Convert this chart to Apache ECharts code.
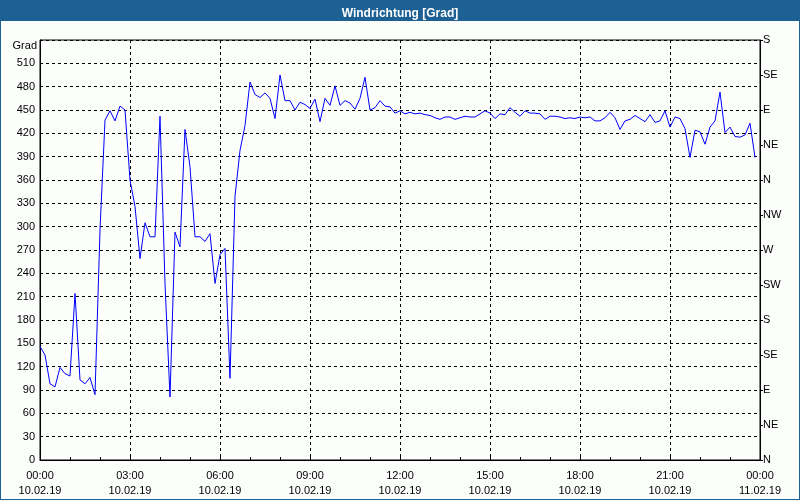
<!DOCTYPE html>
<html>
<head>
<meta charset="utf-8">
<style>
html,body{margin:0;padding:0;background:#fcfefc;}
#chart{width:800px;height:500px;}
</style>
<script src="https://cdn.jsdelivr.net/npm/echarts@6/dist/echarts.min.js"></script>
</head>
<body>
<div id="chart"></div>
<script>
// Sampling: one reading every 10 minutes starting 10.02.19 00:00
const stepMinutes = 10;
const windDirection = [
  146,135,98,94,119,111,108,214,103,98,106,84,
  296,437,449,436,455,450,360,326,259,305,287,287,
  442,227,81,293,274,425,377,287,287,281,291,227,
  264,272,105,339,398,430,486,470,466,472,465,439,
  495,462,462,450,460,457,452,464,435,465,456,481,
  456,462,459,451,465,492,450,453,462,455,454,446,
  449,445,447,445,446,444,443,440,438,441,441,438,
  440,442,441,441,445,449,446,439,445,444,453,447,
  442,449,446,446,445,438,442,442,441,439,440,439,
  441,440,441,436,436,440,447,440,425,436,438,443,
  439,435,444,434,436,449,428,441,439,426,389,424,
  422,406,428,436,473,421,428,416,415,418,433,389
];
const xTickLabels = [
  "00:00\n10.02.19","03:00\n10.02.19","06:00\n10.02.19","09:00\n10.02.19",
  "12:00\n10.02.19","15:00\n10.02.19","18:00\n10.02.19","21:00\n10.02.19",
  "00:00\n11.02.19"
];
const compassLabels = ["N","NE","E","SE","S","SW","W","NW","N","NE","E","SE","S"];
const titleText = "Windrichtung [Grad]";
const unitLabel = "Grad";

const seriesData = windDirection.map((v, i) => [i * stepMinutes, v]);
const font = "'Liberation Sans Narrow','Liberation Sans',sans-serif";

const chart = echarts.init(document.getElementById('chart'), null, {renderer: 'canvas'});
chart.setOption({
  backgroundColor: '#fcfefc',
  animation: false,
  title: {
    text: titleText,
    left: 'center',
    top: 3,
    textStyle: {color: '#ffffff', fontSize: 12, fontWeight: 'bold', fontFamily: font}
  },
  graphic: [
    {type: 'rect', left: 0, top: 0, z: -1, shape: {width: 800, height: 21}, style: {fill: '#1d6094'}},
    {type: 'rect', left: 0, top: 0, z: -1, shape: {width: 1, height: 500}, style: {fill: '#1d6094'}},
    {type: 'rect', left: 799, top: 0, z: -1, shape: {width: 1, height: 500}, style: {fill: '#1d6094'}},
    {type: 'rect', left: 0, top: 499, z: -1, shape: {width: 800, height: 1}, style: {fill: '#1d6094'}},
    {type: 'text', right: 763, top: 40, style: {text: unitLabel, fill: '#000', font: '11px ' + font}}
  ],
  grid: {left: 40, right: 40, top: 40, bottom: 40, show: true, borderColor: '#000', borderWidth: 1, backgroundColor: 'transparent'},
  xAxis: {
    type: 'value', min: 0, max: 1440, interval: 180,
    axisLine: {show: true, lineStyle: {color: '#000', width: 1}},
    axisTick: {show: true, inside: true, length: 3, lineStyle: {color: '#000'}},
    minorTick: {show: true, splitNumber: 3, length: 3, lineStyle: {color: '#000'}},
    splitLine: {show: true, lineStyle: {color: '#000', type: [3, 3], width: 1}},
    axisLabel: {
      color: '#000', fontSize: 11, fontFamily: font, lineHeight: 15, margin: 8,
      formatter: v => xTickLabels[Math.round(v / 180)] || ''
    }
  },
  yAxis: [
    {
      type: 'value', min: 0, max: 540, interval: 30, position: 'left',
      axisLine: {show: true, lineStyle: {color: '#000'}},
      axisTick: {show: false},
      splitLine: {show: true, lineStyle: {color: '#000', type: [3, 3], width: 1}},
      axisLabel: {
        color: '#000', fontSize: 11, fontFamily: font, margin: 5,
        formatter: v => v === 540 ? '' : String(v)
      }
    },
    {
      type: 'value', min: 0, max: 540, interval: 45, position: 'right',
      axisLine: {show: true, lineStyle: {color: '#000'}},
      axisTick: {show: true, inside: false, length: 3, lineStyle: {color: '#000'}},
      splitLine: {show: false},
      axisLabel: {
        color: '#000', fontSize: 11, fontFamily: font, margin: 3,
        padding: [4, 0, 0, 0],
        formatter: v => compassLabels[Math.round(v / 45)] || ''
      }
    }
  ],
  series: [{
    type: 'line',
    data: seriesData,
    yAxisIndex: 0,
    showSymbol: false,
    symbol: 'none',
    lineStyle: {color: '#0000ff', width: 1},
    itemStyle: {color: '#0000ff'}
  }]
});
</script>
</body>
</html>
